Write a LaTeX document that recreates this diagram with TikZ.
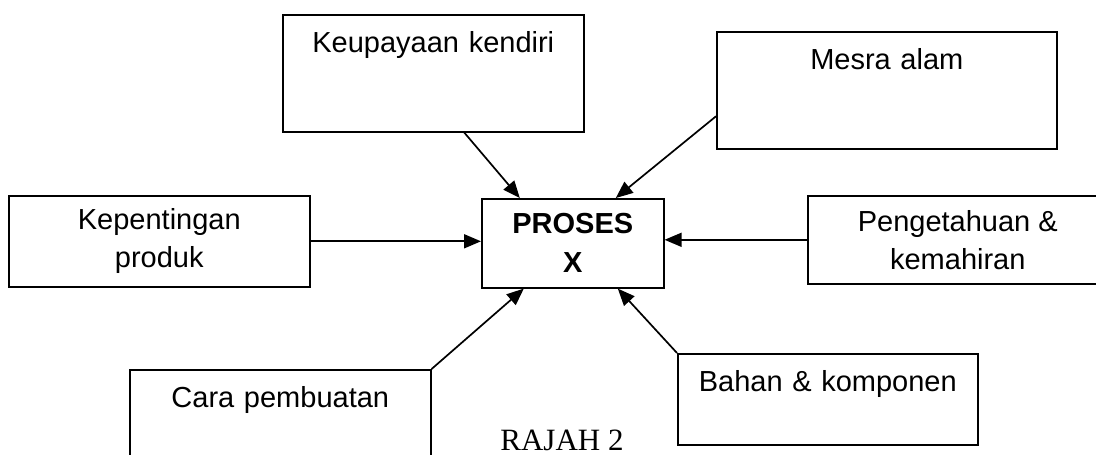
\documentclass[tikz,border=0pt]{standalone}
\usepackage{fontspec}
\setmainfont{Liberation Sans}
\newfontfamily\rajahfont{Liberation Serif}
\usetikzlibrary{arrows.meta}

\begin{document}
\begin{tikzpicture}[x=1pt, y=-1pt,
		font=\fontsize{29}{38}\selectfont,
		topbox/.style={draw, line width=1.6pt, inner sep=0pt, text height=38pt, align=center, anchor=north west},
		midbox/.style={draw, line width=1.6pt, inner sep=0pt, align=center, anchor=north west},
		arr/.style={line width=1.7pt, -{Triangle[length=17pt,width=14pt]}}]
			\useasboundingbox (0,0) rectangle (1096,455);
			\node[topbox, text width=301pt, text depth=79pt] (kendiri) at (282,14) {Keupayaan kendiri};
			\node[topbox, text width=340pt, text depth=79pt] (mesra) at (716,31) {Mesra alam};
			\node[midbox, minimum width=301pt, minimum height=91pt] (kepentingan) at (8,195) {Kepentingan\\produk};
			\node[midbox, minimum width=182pt, minimum height=89pt, font=\fontsize{29}{39}\selectfont\bfseries] (proses) at (481,198) {PROSES\\X};
			\node[midbox, minimum width=300pt, minimum height=88pt] (pengetahuan) at (807,195) {Pengetahuan \&\\kemahiran};
			\node[topbox, text width=301pt, text depth=62pt] (cara) at (129,369) {Cara pembuatan};
			\node[topbox, text width=300pt, text depth=53pt] (bahan) at (677,353) {Bahan \& komponen};
			\node[anchor=base, inner sep=0pt, font=\rajahfont\fontsize{31}{37}\selectfont] (rajah) at (562,450) {RAJAH 2};
			\draw[arr] ([xshift=31pt]kendiri.south) -- ([xshift=-53pt]proses.north);
			\draw[arr] ([yshift=-26pt]mesra.west) -- ([xshift=43pt]proses.north);
			\draw[arr] (kepentingan.east) -- (kepentingan.east -| proses.west);
			\draw[arr] (pengetahuan.west) -- (pengetahuan.west -| proses.east);
			\draw[arr] (cara.north east) -- ([xshift=-49pt]proses.south);
			\draw[arr] (bahan.north west) -- ([xshift=45pt]proses.south);
		\end{tikzpicture}
\end{document}
